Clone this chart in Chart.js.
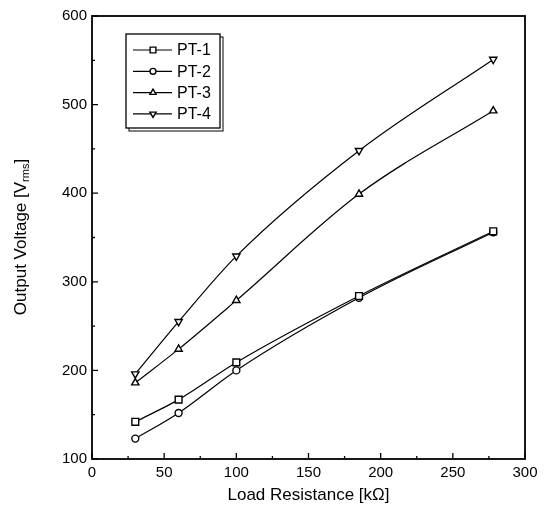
<!DOCTYPE html>
<html>
<head>
<meta charset="utf-8">
<script src="https://cdn.jsdelivr.net/npm/chart.js@4.4.1/dist/chart.umd.min.js"></script>
<style>
  html, body { margin: 0; padding: 0; background: #fff; }
  #wrap { width: 544px; height: 510px; }
</style>
</head>
<body>
<div id="wrap"><canvas id="grafico" width="544" height="510"></canvas></div>
<script>
// valores
const resistencia = [30, 60, 100, 185, 278]; // kΩ
const pt1 = [142, 167, 209, 284, 357];
const pt2 = [123, 152, 200, 282, 356];
const pt3 = [186, 224, 279, 399, 493];
const pt4 = [196, 255, 329, 448, 551];
const nomes = ["PT-1", "PT-2", "PT-3", "PT-4"];
const ticksX = [0, 50, 100, 150, 200, 250, 300];
const ticksY = [100, 200, 300, 400, 500, 600];

const FONTE = "'Liberation Sans', Arial, sans-serif";

const pontos = (ys) => ys.map((y, i) => ({ x: resistencia[i], y }));

function serie(nome, ys, estilo, rot, raio) {
  return {
    label: nome,
    data: pontos(ys),
    borderColor: "#000",
    borderWidth: 1.2,
    backgroundColor: "#fff",
    pointStyle: estilo,
    rotation: rot,
    pointRadius: raio,
    pointBorderWidth: 1.4,
    pointBorderColor: "#000",
    pointBackgroundColor: "#fff",
    cubicInterpolationMode: "monotone",
    fill: false,
  };
}

// moldura, ticks internos, legenda e título do eixo y
const extras = {
  id: "extras",
  afterDraw(chart) {
    const ctx = chart.ctx;
    const a = chart.chartArea;
    const sx = chart.scales.x, sy = chart.scales.y;
    ctx.save();
    ctx.strokeStyle = "#000";
    ctx.lineWidth = 1.8;
    ctx.strokeRect(a.left, a.top, a.right - a.left, a.bottom - a.top);

    ctx.lineWidth = 1.3;
    ctx.beginPath();
    sx.ticks.forEach((t, i) => {
      const px = sx.getPixelForValue(t.value);
      ctx.moveTo(px, a.bottom); ctx.lineTo(px, a.bottom - 6);
      if (i < sx.ticks.length - 1) {
        const pm = sx.getPixelForValue(t.value + 25);
        ctx.moveTo(pm, a.bottom); ctx.lineTo(pm, a.bottom - 3);
      }
    });
    sy.ticks.forEach((t, i) => {
      const py = sy.getPixelForValue(t.value);
      ctx.moveTo(a.left, py); ctx.lineTo(a.left + 6, py);
      if (i < sy.ticks.length - 1) {
        const pm = sy.getPixelForValue(t.value + 50);
        ctx.moveTo(a.left, pm); ctx.lineTo(a.left + 3, pm);
      }
    });
    ctx.stroke();

    // legenda dentro do gráfico
    const bx = 126, by = 34, bw = 94, bh = 94;
    ctx.fillStyle = "#fff";
    ctx.lineWidth = 1;
    ctx.strokeRect(bx + 3, by + 3, bw, bh);
    ctx.fillRect(bx, by, bw, bh);
    ctx.lineWidth = 1.3;
    ctx.strokeRect(bx, by, bw, bh);
    ctx.font = "16px " + FONTE;
    ctx.textBaseline = "middle";
    chart.data.datasets.forEach((ds, i) => {
      const ly = 50 + i * 21.3;
      ctx.strokeStyle = "#000";
      ctx.lineWidth = 1.2;
      ctx.beginPath();
      ctx.moveTo(133, ly); ctx.lineTo(172, ly);
      ctx.stroke();
      ctx.fillStyle = ds.pointBackgroundColor;
      ctx.lineWidth = 1.4;
      Chart.helpers.drawPoint(ctx, {
        pointStyle: ds.pointStyle,
        rotation: ds.rotation,
        radius: ds.pointRadius * 0.85,
        borderWidth: 1.4,
      }, 153, ly);
      ctx.fillStyle = "#000";
      ctx.fillText(ds.label, 177, ly + 1);
    });

    // título do eixo y com subscrito
    ctx.save();
    ctx.translate(21, 237);
    ctx.rotate(-Math.PI / 2);
    ctx.fillStyle = "#000";
    ctx.textBaseline = "middle";
    const t1 = "Output Voltage [V";
    const t2 = "rms";
    const t3 = "]";
    ctx.font = "17px " + FONTE;
    const w1 = ctx.measureText(t1).width;
    const w3 = ctx.measureText(t3).width;
    ctx.font = "11px " + FONTE;
    const w2 = ctx.measureText(t2).width;
    let x0 = -(w1 + w2 + w3) / 2;
    ctx.font = "17px " + FONTE;
    ctx.fillText(t1, x0, 0);
    ctx.font = "11px " + FONTE;
    ctx.fillText(t2, x0 + w1, 5);
    ctx.font = "17px " + FONTE;
    ctx.fillText(t3, x0 + w1 + w2, 0);
    ctx.restore();
    ctx.restore();
  },
};

new Chart(document.getElementById("grafico").getContext("2d"), {
  type: "line",
  data: {
    datasets: [
      serie(nomes[0], pt1, "rect", 0, 4.8),
      serie(nomes[1], pt2, "circle", 0, 3.5),
      serie(nomes[2], pt3, "triangle", 0, 4.2),
      serie(nomes[3], pt4, "triangle", 180, 4.2),
    ],
  },
  options: {
    responsive: false,
    animation: false,
    layout: { padding: { left: 0, top: 16, right: 19, bottom: 0 } },
    plugins: {
      legend: { display: false },
      tooltip: { enabled: false },
    },
    scales: {
      x: {
        type: "linear",
        min: 0,
        max: 300,
        afterBuildTicks: (s) => { s.ticks = ticksX.map((v) => ({ value: v })); },
        afterFit: (s) => { s.height = 51; },
        grid: { display: false, drawTicks: false },
        border: { display: false },
        ticks: { color: "#000", font: { family: FONTE, size: 15 }, padding: 5, maxRotation: 0 },
        title: {
          display: true,
          text: "Load Resistance [kΩ]",
          color: "#000",
          font: { family: FONTE, size: 17 },
          padding: { top: 3 },
        },
      },
      y: {
        min: 100,
        max: 600,
        afterBuildTicks: (s) => { s.ticks = ticksY.map((v) => ({ value: v })); },
        afterFit: (s) => { s.width = 92; },
        grid: { display: false, drawTicks: false },
        border: { display: false },
        ticks: { color: "#000", font: { family: FONTE, size: 15 }, padding: 5 },
      },
    },
  },
  plugins: [extras],
});
</script>
</body>
</html>
